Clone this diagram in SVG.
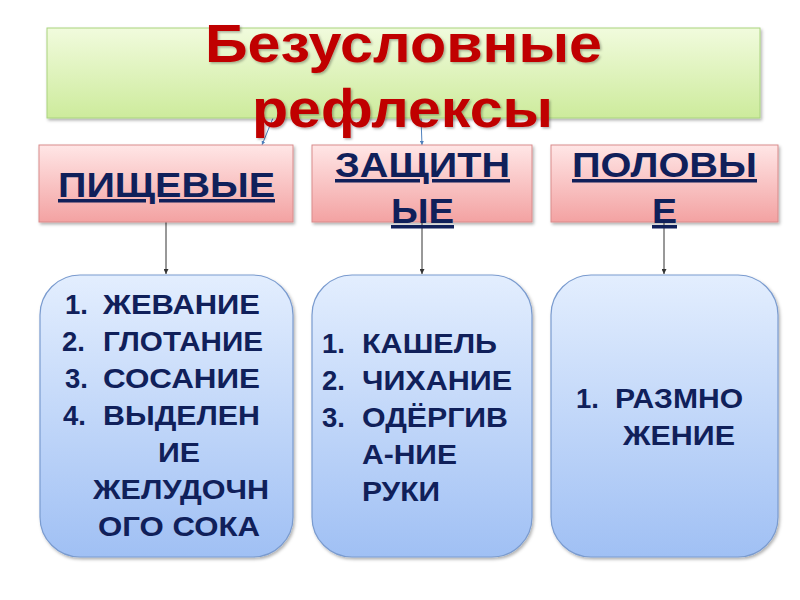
<svg xmlns="http://www.w3.org/2000/svg" width="800" height="600" viewBox="0 0 800 600">
  <defs>
    <linearGradient id="gGreen" x1="0" y1="0" x2="0" y2="1">
      <stop offset="0" stop-color="#F1FBDD"/>
      <stop offset="1" stop-color="#CDEB9C"/>
    </linearGradient>
    <linearGradient id="gPink" x1="0" y1="0" x2="0" y2="1">
      <stop offset="0" stop-color="#FFE6E6"/>
      <stop offset="1" stop-color="#F3A2A2"/>
    </linearGradient>
    <linearGradient id="gBlue" x1="0" y1="0" x2="0" y2="1">
      <stop offset="0" stop-color="#E3EEFE"/>
      <stop offset="1" stop-color="#A0C0F4"/>
    </linearGradient>
    <filter id="shadow" x="-5%" y="-5%" width="110%" height="115%">
      <feDropShadow dx="1.5" dy="2" stdDeviation="1.5" flood-color="#000" flood-opacity="0.3"/>
    </filter>
    <filter id="tshadow" x="-5%" y="-10%" width="110%" height="130%">
      <feDropShadow dx="1.5" dy="1.5" stdDeviation="1.2" flood-color="#000" flood-opacity="0.3"/>
    </filter>
    <marker id="arrBlack" viewBox="0 0 6 6" refX="6" refY="3" markerWidth="5" markerHeight="5" orient="auto">
      <path d="M0,0 L6,3 L0,6 z" fill="#333"/>
    </marker>
    <marker id="arrBlue" viewBox="0 0 6 6" refX="6" refY="3" markerWidth="4" markerHeight="4" orient="auto">
      <path d="M0,0 L6,3 L0,6 z" fill="#4F81BD"/>
    </marker>
  </defs>
  <style>
    .green { fill: url(#gGreen); stroke: #A9D37F; stroke-width: 1; filter: url(#shadow); }
    .pink { fill: url(#gPink); stroke: #D98B8B; stroke-width: 1; filter: url(#shadow); }
    .blue { fill: url(#gBlue); stroke: #7A9BCF; stroke-width: 1.2; filter: url(#shadow); }
    .title { font-family: "Liberation Sans", Arial, sans-serif; font-weight: bold; font-size: 54px; fill: #C00000; filter: url(#tshadow); }
    .head { font-family: "Liberation Sans", Arial, sans-serif; font-weight: bold; font-size: 35px; fill: #10205A; text-decoration: underline; }
    .item { font-family: "Liberation Sans", Arial, sans-serif; font-weight: bold; font-size: 27.5px; fill: #10205A; }
    .conBlack { stroke: #333; stroke-width: 1; fill: none; marker-end: url(#arrBlack); }
    .conBlue { stroke: #4F81BD; stroke-width: 1; fill: none; marker-end: url(#arrBlue); }
  </style>

  <g id="connectors">
    <line class="conBlue" x1="273" y1="118" x2="262" y2="145"/>
    <line class="conBlue" x1="421" y1="118" x2="422" y2="145"/>
    <line class="conBlack" x1="166" y1="222" x2="166" y2="274"/>
    <line class="conBlack" x1="422" y1="222" x2="422" y2="274"/>
    <line class="conBlack" x1="664" y1="222" x2="664" y2="274"/>
  </g>

  <g id="node-pishchevye">
    <rect class="pink" x="39" y="145" width="254" height="77"/>
    <text class="head" x="58" y="197" textLength="217" lengthAdjust="spacingAndGlyphs">ПИЩЕВЫЕ</text>
  </g>
  <g id="node-zashchitnye">
    <rect class="pink" x="312" y="145" width="220" height="77"/>
    <text class="head" x="335" y="177" textLength="175" lengthAdjust="spacingAndGlyphs">ЗАЩИТН</text>
    <text class="head" x="391" y="223" textLength="63" lengthAdjust="spacingAndGlyphs">ЫЕ</text>
  </g>
  <g id="node-polovye">
    <rect class="pink" x="551" y="145" width="227" height="77"/>
    <text class="head" x="572" y="177" textLength="185" lengthAdjust="spacingAndGlyphs">ПОЛОВЫ</text>
    <text class="head" x="652" y="223" textLength="25" lengthAdjust="spacingAndGlyphs">Е</text>
  </g>

  <g id="node-list-pishchevye">
    <rect class="blue" x="40" y="275" width="253" height="282" rx="40" ry="40"/>
    <text class="item" x="65" y="314">1.</text>
    <text class="item" x="103" y="314" textLength="157" lengthAdjust="spacingAndGlyphs">ЖЕВАНИЕ</text>
    <text class="item" x="62" y="351">2.</text>
    <text class="item" x="103" y="351" textLength="160" lengthAdjust="spacingAndGlyphs">ГЛОТАНИЕ</text>
    <text class="item" x="65" y="388">3.</text>
    <text class="item" x="103" y="388" textLength="157" lengthAdjust="spacingAndGlyphs">СОСАНИЕ</text>
    <text class="item" x="63" y="425">4.</text>
    <text class="item" x="103" y="425" textLength="157" lengthAdjust="spacingAndGlyphs">ВЫДЕЛЕН</text>
    <text class="item" x="158" y="462" textLength="42" lengthAdjust="spacingAndGlyphs">ИЕ</text>
    <text class="item" x="93" y="499" textLength="176" lengthAdjust="spacingAndGlyphs">ЖЕЛУДОЧН</text>
    <text class="item" x="98" y="536" textLength="162" lengthAdjust="spacingAndGlyphs">ОГО СОКА</text>
  </g>

  <g id="node-list-zashchitnye">
    <rect class="blue" x="312" y="275" width="220" height="282" rx="40" ry="40"/>
    <text class="item" x="322" y="353">1.</text>
    <text class="item" x="362" y="353" textLength="135" lengthAdjust="spacingAndGlyphs">КАШЕЛЬ</text>
    <text class="item" x="322" y="390">2.</text>
    <text class="item" x="362" y="390" textLength="150" lengthAdjust="spacingAndGlyphs">ЧИХАНИЕ</text>
    <text class="item" x="322" y="427">3.</text>
    <text class="item" x="362" y="427" textLength="146" lengthAdjust="spacingAndGlyphs">ОДЁРГИВ</text>
    <text class="item" x="362" y="464" textLength="95" lengthAdjust="spacingAndGlyphs">А-НИЕ</text>
    <text class="item" x="362" y="501" textLength="78" lengthAdjust="spacingAndGlyphs">РУКИ</text>
  </g>

  <g id="node-list-polovye">
    <rect class="blue" x="551" y="275" width="227" height="282" rx="40" ry="40"/>
    <text class="item" x="576" y="408">1.</text>
    <text class="item" x="615" y="408" textLength="128" lengthAdjust="spacingAndGlyphs">РАЗМНО</text>
    <text class="item" x="623" y="445" textLength="112" lengthAdjust="spacingAndGlyphs">ЖЕНИЕ</text>
  </g>

  <g id="node-title">
    <rect class="green" x="47" y="28" width="713" height="90"/>
    <text class="title" x="205" y="62" textLength="397" lengthAdjust="spacingAndGlyphs">Безусловные</text>
    <text class="title" x="252" y="127" textLength="301" lengthAdjust="spacingAndGlyphs">рефлексы</text>
  </g>
</svg>
